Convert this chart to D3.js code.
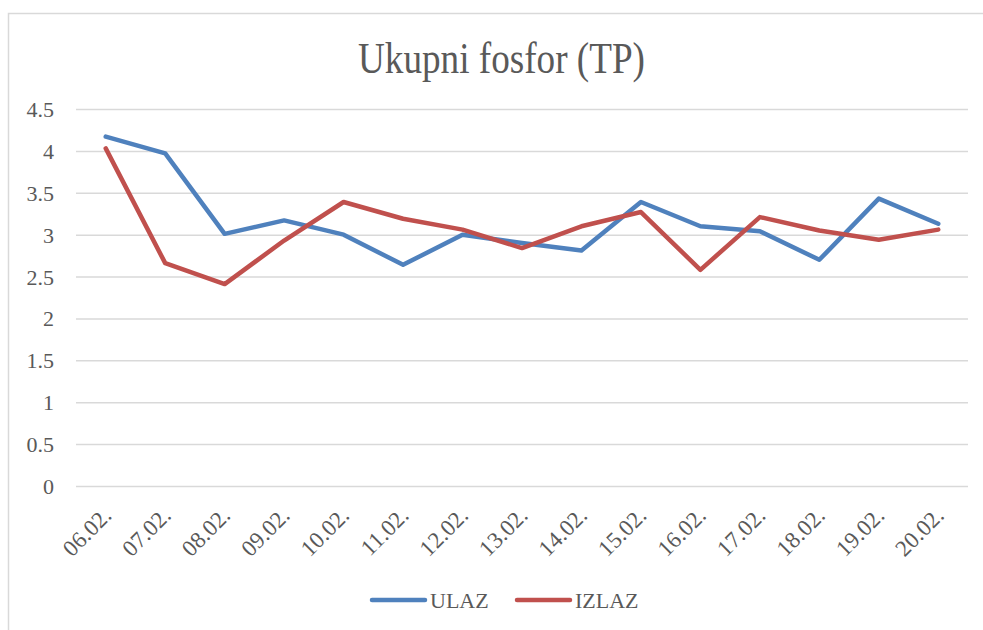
<!DOCTYPE html>
<html>
<head>
<meta charset="utf-8">
<script src="https://cdn.jsdelivr.net/npm/d3@7"></script>
<style>
  body { margin: 0; background: #fff; }
  svg { display: block; }
</style>
</head>
<body>
<div id="chart"></div>
<script>
// data
const days = ["06.02.", "07.02.", "08.02.", "09.02.", "10.02.", "11.02.", "12.02.", "13.02.",
  "14.02.", "15.02.", "16.02.", "17.02.", "18.02.", "19.02.", "20.02."]
const ulaz = [4.17, 3.97, 3.01, 3.17, 3.0, 2.64, 3.0, 2.9, 2.81, 3.39, 3.1, 3.04, 2.7, 3.43, 3.13]
const izlaz = [4.03, 2.66, 2.41, 2.93, 3.39, 3.19, 3.06, 2.84, 3.1, 3.27, 2.58, 3.21, 3.05, 2.94, 3.06]
const yTicks = [0, 0.5, 1, 1.5, 2, 2.5, 3, 3.5, 4, 4.5]

const series = [
  { name: "ULAZ", values: ulaz, color: "#4f81bd" },
  { name: "IZLAZ", values: izlaz, color: "#c0504d" },
]

const dimensions = {
  width: 983,
  height: 630,
  margin: { top: 109, right: 15, bottom: 144, left: 76 },
}
dimensions.boundedWidth = dimensions.width - dimensions.margin.left - dimensions.margin.right
dimensions.boundedHeight = dimensions.height - dimensions.margin.top - dimensions.margin.bottom

const font = "'Liberation Serif', 'Times New Roman', serif"
const textColor = "#595959"

const wrapper = d3.select("#chart")
  .append("svg")
    .attr("width", dimensions.width)
    .attr("height", dimensions.height)

// chart frame
wrapper.append("rect")
  .attr("x", 8.5)
  .attr("y", 13.5)
  .attr("width", dimensions.width)
  .attr("height", dimensions.height)
  .attr("fill", "none")
  .attr("stroke", "#d9d9d9")
  .attr("stroke-width", 1.5)

// title is tall and narrow in the picture, so squeeze it
wrapper.append("text")
  .attr("x", 358)
  .attr("y", 73)
  .attr("textLength", 287)
  .attr("lengthAdjust", "spacingAndGlyphs")
  .attr("fill", textColor)
  .style("font-family", font)
  .style("font-size", "44px")
  .text("Ukupni fosfor (TP)")

const bounds = wrapper.append("g")
  .attr("transform", `translate(${dimensions.margin.left},${dimensions.margin.top})`)

// scales
const xScale = d3.scaleBand()
  .domain(days)
  .range([0, dimensions.boundedWidth])

const yScale = d3.scaleLinear()
  .domain([0, 4.5])
  .range([dimensions.boundedHeight, 0])

// grid + y labels
const yAxis = bounds.append("g")
  .call(d3.axisLeft(yScale)
    .tickValues(yTicks)
    .tickSize(-dimensions.boundedWidth)
    .tickPadding(22)
    .tickFormat(d3.format("")))
yAxis.select(".domain").remove()
yAxis.selectAll(".tick line")
  .attr("stroke", "#d9d9d9")
  .attr("stroke-width", 1.5)
yAxis.selectAll(".tick text")
  .attr("fill", textColor)
  .attr("dy", "0.34em")
  .style("font-family", font)
  .style("font-size", "22px")

// x labels
const xAxis = bounds.append("g")
  .attr("transform", `translate(0,${dimensions.boundedHeight})`)
  .call(d3.axisBottom(xScale).tickSize(0).tickPadding(0))
xAxis.select(".domain").remove()
xAxis.selectAll(".tick text")
  .attr("fill", textColor)
  .style("font-family", font)
  .style("font-size", "23px")
  .attr("text-anchor", "end")
  .attr("dy", 0)
  .attr("transform", "translate(7,31) rotate(-45)")

// lines
const lineGenerator = d3.line()
  .x((d, i) => xScale(days[i]) + xScale.bandwidth() / 2)
  .y(d => yScale(d))

bounds.selectAll(".series")
  .data(series)
  .join("path")
    .attr("class", "series")
    .attr("d", d => lineGenerator(d.values))
    .attr("fill", "none")
    .attr("stroke", d => d.color)
    .attr("stroke-width", 4.5)
    .attr("stroke-linejoin", "round")
    .attr("stroke-linecap", "round")

// legend
const legend = wrapper.append("g")
  .attr("transform", "translate(372,600)")

const legendItems = legend.selectAll("g")
  .data(series)
  .join("g")
    .attr("transform", (d, i) => `translate(${i * 145},0)`)

legendItems.append("line")
  .attr("x1", 0)
  .attr("x2", 53)
  .attr("stroke", d => d.color)
  .attr("stroke-width", 4.5)
  .attr("stroke-linecap", "round")

legendItems.append("text")
  .attr("x", 58)
  .attr("y", 8)
  .attr("fill", textColor)
  .style("font-family", font)
  .style("font-size", "22px")
  .text(d => d.name)
</script>
</body>
</html>
